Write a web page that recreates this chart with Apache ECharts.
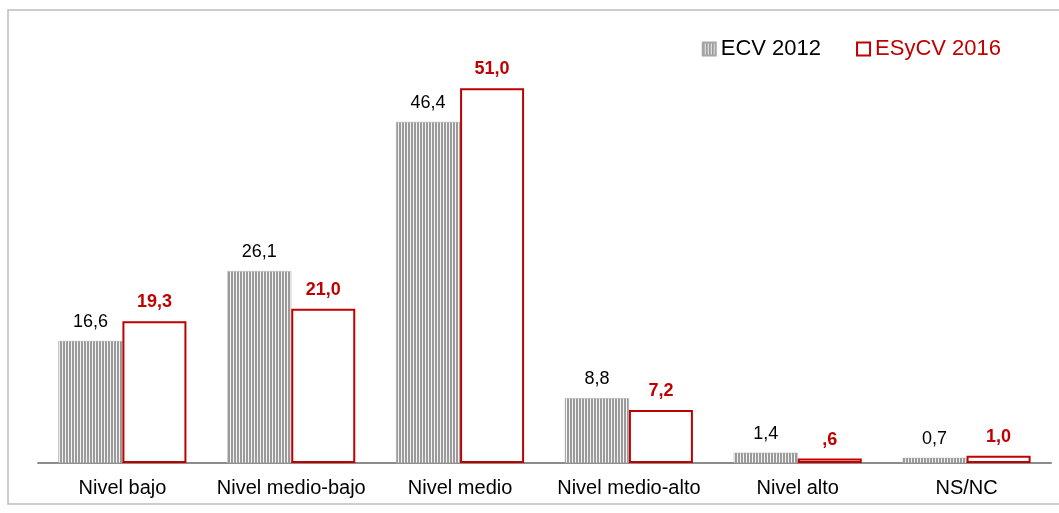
<!DOCTYPE html>
<html>
<head>
<meta charset="utf-8">
<script src="https://cdn.jsdelivr.net/npm/echarts@6/dist/echarts.min.js"></script>
<style>
  html, body { margin: 0; padding: 0; background: #fff; }
  #chart { width: 1059px; height: 513px; }
</style>
</head>
<body>
<div id="chart"></div>
<script>
const categories = ["Nivel bajo", "Nivel medio-bajo", "Nivel medio", "Nivel medio-alto", "Nivel alto", "NS/NC"];
const ecv2012 = [16.6, 26.1, 46.4, 8.8, 1.4, 0.7];
const esycv2016 = [19.3, 21.0, 51.0, 7.2, 0.6, 1.0];
const ecvLabels = ["16,6", "26,1", "46,4", "8,8", "1,4", "0,7"];
const esycvLabels = ["19,3", "21,0", "51,0", "7,2", ",6", "1,0"];

// vertical stripe fill for the 2012 bars
const stripe = document.createElement("canvas");
stripe.width = 3;
stripe.height = 4;
const ctx = stripe.getContext("2d");
ctx.fillStyle = "#f4f4f4";
ctx.fillRect(0, 0, 3, 4);
ctx.fillStyle = "#9a9a9a";
ctx.fillRect(0, 0, 2, 4);

const chart = echarts.init(document.getElementById("chart"));

const option = {
  animation: false,
  textStyle: { fontFamily: "Liberation Sans, Arial, sans-serif" },
  graphic: [
    {
      type: "rect",
      shape: { x: 8, y: 10, width: 1100, height: 494 },
      style: { fill: "none", stroke: "#bdbdbd", lineWidth: 1.5 },
      silent: true,
      z: -1
    }
  ],
  legend: {
    right: 53,
    top: 33,
    itemWidth: 13,
    itemHeight: 13,
    itemGap: 35,
    textStyle: { fontSize: 22 },
    data: [
      { name: "ECV 2012", icon: "rect", textStyle: { color: "#000" } },
      { name: "ESyCV 2016", icon: "rect", textStyle: { color: "#c00000" } }
    ]
  },
  grid: {
    left: 38,
    right: 8,
    top: 22,
    bottom: 50
  },
  xAxis: {
    type: "category",
    data: categories,
    axisLine: { lineStyle: { color: "#8c8c8c", width: 2 } },
    axisTick: { show: false },
    axisLabel: { color: "#000", fontSize: 20, margin: 15, interval: 0 }
  },
  yAxis: {
    type: "value",
    min: 0,
    max: 60,
    show: false,
    splitLine: { show: false }
  },
  series: [
    {
      name: "ECV 2012",
      type: "bar",
      barWidth: 64,
      barGap: "0%",
      data: ecv2012,
      itemStyle: {
        color: { image: stripe, repeat: "repeat" },
        borderColor: "#a6a6a6",
        borderWidth: 0.5
      },
      label: {
        show: true,
        position: "top",
        distance: 10,
        color: "#000",
        fontSize: 18,
        formatter: (p) => ecvLabels[p.dataIndex]
      }
    },
    {
      name: "ESyCV 2016",
      type: "bar",
      barWidth: 64,
      data: esycv2016,
      itemStyle: {
        color: "#fff",
        borderColor: "#c00000",
        borderWidth: 2
      },
      label: {
        show: true,
        position: "top",
        distance: 10,
        color: "#c00000",
        fontWeight: "bold",
        fontSize: 18,
        formatter: (p) => esycvLabels[p.dataIndex]
      }
    }
  ]
};

chart.setOption(option);
</script>
</body>
</html>
